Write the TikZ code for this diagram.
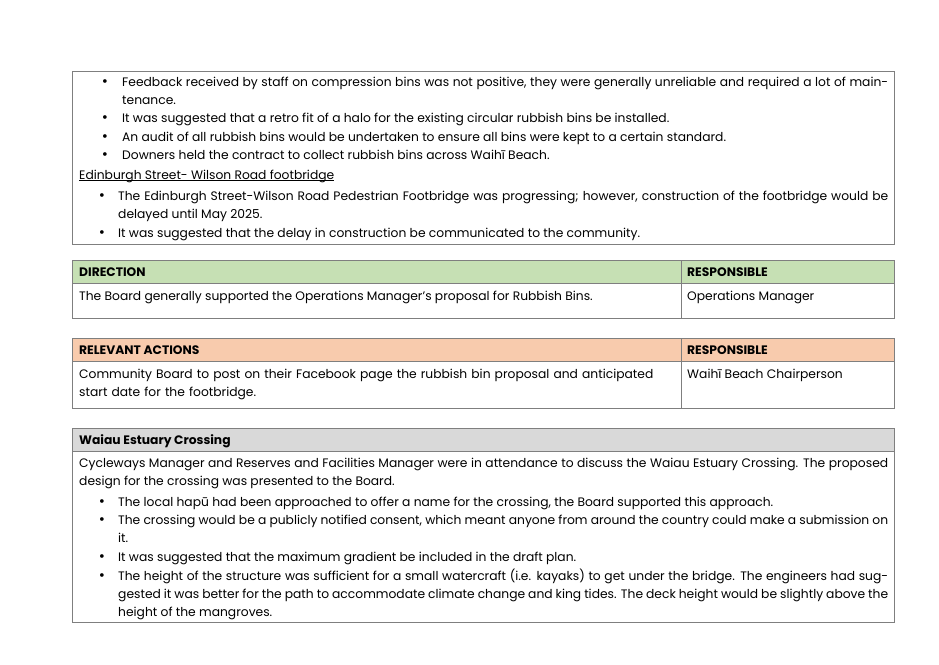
\documentclass[tikz,border=0pt]{standalone}
\usepackage{fontspec}
\setmainfont{Poppins}
\definecolor{hgreen}{HTML}{C6E0B4}
\definecolor{horange}{HTML}{F8CBAD}
\definecolor{hgrey}{HTML}{D9D9D9}
\definecolor{rule}{HTML}{7F7F7F}
\newcommand{\ulx}[1]{\underline{\smash{#1}}}
\begin{document}
\begin{tikzpicture}[x=1pt,y=-1pt,
  txt/.style={anchor=base west,inner sep=0pt,font=\fontsize{12.3}{18.3}\selectfont},
  par/.style={txt,text width=#1,align=justify},
  bul/.style={anchor=base,inner sep=0pt,font=\fontsize{15}{18}\selectfont},
  hd/.style={txt,font=\fontsize{12.3}{18}\selectfont\bfseries},
  frame/.style={draw=rule,line width=0.6pt}]
\useasboundingbox (0,0) rectangle (939,664);
% box 1
\draw[frame] (72,71) rectangle (894,244);
\node[bul] (b1) at (105,86) {•};
\node[par=766pt] (t1) at (122,86) {Feedback received by staff on compression bins was not positive, they were generally unreliable and required a lot of maintenance.};
\node[bul] (b2) at (105,122) {•};
\node[txt] (t2) at (122,122) {It was suggested that a retro fit of a halo for the existing circular rubbish bins be installed.};
\node[bul] (b3) at (105,141) {•};
\node[txt] (t3) at (122,141) {An audit of all rubbish bins would be undertaken to ensure all bins were kept to a certain standard.};
\node[bul] (b4) at (105,159) {•};
\node[txt] (t4) at (122,159) {Downers held the contract to collect rubbish bins across Waihī Beach.};
\node[txt] (t5) at (79,179) {\ulx{Edinburgh Street- Wilson Road footbridge}};
\node[bul] (b6) at (102,200) {•};
\node[par=770pt] (t6) at (118,200) {The Edinburgh Street-Wilson Road Pedestrian Footbridge was progressing; however, construction of the footbridge would be delayed until May 2025.};
\node[bul] (b7) at (102,237) {•};
\node[txt] (t7) at (118,237) {It was suggested that the delay in construction be communicated to the community.};
% table 1
\fill[hgreen] (72,260) rectangle (894,283);
\draw[frame] (72,260) rectangle (894,318);
\draw[frame] (72,283) -- (894,283);
\draw[frame] (681,260) -- (681,318);
\node[hd] (h1) at (79,276) {DIRECTION};
\node[hd] (h2) at (687,276) {RESPONSIBLE};
\node[txt] (r1) at (79,300) {The Board generally supported the Operations Manager’s proposal for Rubbish Bins.};
\node[txt] (r2) at (687,300) {Operations Manager};
% table 2
\fill[horange] (72,338) rectangle (894,361);
\draw[frame] (72,338) rectangle (894,408);
\draw[frame] (72,361) -- (894,361);
\draw[frame] (681,338) -- (681,408);
\node[hd] (h3) at (79,354) {RELEVANT ACTIONS};
\node[hd] (h4) at (687,354) {RESPONSIBLE};
\node[par=598pt,align=left] (r3) at (79,378) {Community Board to post on their Facebook page the rubbish bin proposal and anticipated start date for the footbridge.};
\node[txt] (r4) at (687,378) {Waihī Beach Chairperson};
% box 3
\fill[hgrey] (72,428) rectangle (894,451);
\draw[frame] (72,428) rectangle (894,622);
\draw[frame] (72,451) -- (894,451);
\node[hd] (h5) at (79,444) {Waiau Estuary Crossing};
\node[par=809pt] (p1) at (79,467) {Cycleways Manager and Reserves and Facilities Manager were in attendance to discuss the Waiau Estuary Crossing. The proposed design for the crossing was presented to the Board.};
\node[bul] (c1) at (102,506) {•};
\node[txt] (d1) at (118,506) {The local hapū had been approached to offer a name for the crossing, the Board supported this approach.};
\node[bul] (c2) at (102,524) {•};
\node[par=770pt] (d2) at (118,524) {The crossing would be a publicly notified consent, which meant anyone from around the country could make a submission on it.};
\node[bul] (c3) at (102,561) {•};
\node[txt] (d3) at (118,561) {It was suggested that the maximum gradient be included in the draft plan.};
\node[bul] (c4) at (102,580) {•};
\node[par=770pt] (d4) at (118,580) {The height of the structure was sufficient for a small watercraft (i.e. kayaks) to get under the bridge. The engineers had suggested it was better for the path to accommodate climate change and king tides. The deck height would be slightly above the height of the mangroves.};
\end{tikzpicture}
\end{document}
